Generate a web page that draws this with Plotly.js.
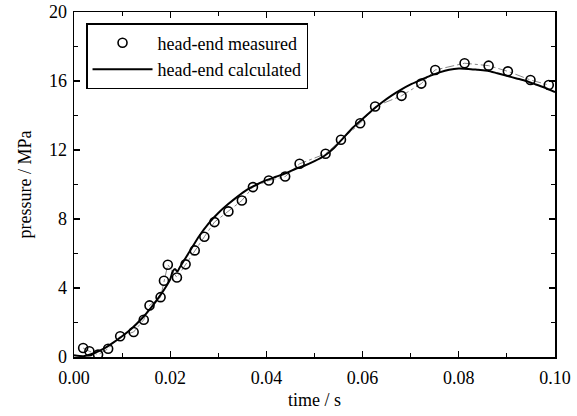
<!DOCTYPE html>
<html><head><meta charset="utf-8">
<script src="https://cdn.plot.ly/plotly-3.0.1.min.js"></script>
<style>html,body{margin:0;padding:0;background:#fff}#chart{width:577px;height:416px}</style>
</head><body><div id="chart"></div>
<script>
// measured head-end pressure (circles)
const measTime = [0.0019,0.0032,0.0050,0.0071,0.0096,0.0124,0.0145,0.0157,0.0180,0.0187,0.0195,0.0214,0.0232,0.0251,0.0271,0.0292,0.0321,0.0349,0.0372,0.0405,0.0439,0.0469,0.0523,0.0555,0.0595,0.0626,0.0681,0.0722,0.0751,0.0812,0.0862,0.0902,0.0949,0.0987];
const measP = [0.52,0.33,0.14,0.48,1.20,1.45,2.16,2.99,3.47,4.42,5.35,4.61,5.37,6.18,6.97,7.82,8.44,9.07,9.85,10.23,10.46,11.20,11.78,12.59,13.55,14.52,15.14,15.85,16.64,17.03,16.89,16.56,16.06,15.77];
// calculated head-end pressure (solid line)
const calcTime = [0,0.002,0.004,0.006,0.008,0.010,0.012,0.014,0.016,0.018,0.020,0.0205,0.021,0.0215,0.022,0.024,0.026,0.028,0.030,0.032,0.034,0.036,0.038,0.040,0.042,0.044,0.046,0.048,0.050,0.052,0.054,0.056,0.058,0.060,0.062,0.064,0.066,0.068,0.070,0.072,0.074,0.076,0.078,0.080,0.082,0.084,0.086,0.088,0.090,0.092,0.094,0.096,0.098,0.100];
const calcP = [0.1,0.05,0.2,0.45,0.8,1.2,1.65,2.2,2.85,3.6,4.5,4.95,5.1,4.95,5.2,6.1,7.0,7.75,8.35,8.85,9.3,9.7,10.0,10.25,10.45,10.65,10.9,11.1,11.35,11.65,12.1,12.7,13.3,13.8,14.3,14.75,15.15,15.5,15.8,16.05,16.3,16.5,16.65,16.72,16.7,16.65,16.6,16.45,16.3,16.15,16.0,15.8,15.6,15.35];
const legendNames = ['head-end measured','head-end calculated'];
const xTitle = 'time / s', yTitle = 'pressure / MPa';

const F = (s) => ({family:'Liberation Serif', size:s, color:'#000'});
const traces = [
  {x:measTime, y:measP, mode:'lines', line:{color:'#888', width:1, dash:'dashdot'}, showlegend:false, hoverinfo:'skip'},
  {x:measTime, y:measP, mode:'markers', name:legendNames[0],
   marker:{symbol:'circle-open', size:9, color:'#000', line:{width:1.6, color:'#000'}}},
  {x:calcTime, y:calcP, mode:'lines', name:legendNames[1], line:{color:'#000', width:2, shape:'spline', smoothing:0.6}}
];
function axis(extra){
  return Object.assign({showgrid:false, zeroline:false, showline:true, linecolor:'#000', linewidth:1.5,
    ticks:'inside', ticklen:6, tickwidth:1.2, tickcolor:'#000', mirror:'allticks', tickfont:F(18)}, extra);
}
const layout = {
  width:577, height:416, margin:{l:74, r:22, t:12, b:59},
  paper_bgcolor:'#fff', plot_bgcolor:'#fff', font:F(18),
  xaxis:axis({range:[0,0.1], dtick:0.02, tickformat:'.2f', ticklabelstandoff:4,
    minor:{dtick:0.01, ticks:'inside', ticklen:4, tickcolor:'#000', tickwidth:1},
    title:{text:xTitle, font:F(18), standoff:6}}),
  yaxis:axis({range:[0,20], dtick:4, ticklabelstandoff:2,
    minor:{dtick:2, ticks:'inside', ticklen:4, tickcolor:'#000', tickwidth:1},
    title:{text:yTitle, font:F(18), standoff:12}}),
  legend:{x:0.025, y:0.968, xanchor:'left', yanchor:'top', bgcolor:'#fff', bordercolor:'#000', borderwidth:1.5,
    font:F(18), tracegroupgap:0, itemwidth:60}
};
Plotly.newPlot('chart', traces, layout, {displayModeBar:false, staticPlot:true});
</script></body></html>
